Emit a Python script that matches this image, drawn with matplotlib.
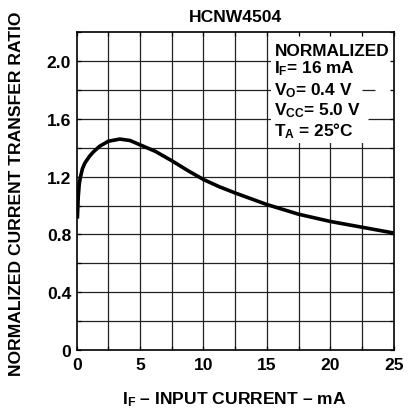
import numpy as np
import matplotlib
matplotlib.use("Agg")
import matplotlib.pyplot as plt
from matplotlib.patches import Rectangle

# values
i_f = [0.05, 0.12, 0.2, 0.3, 0.45, 0.65, 1.0, 1.3, 1.8, 2.5, 3.4, 4.2, 5.0, 6.2, 7.5,
       8.8, 10.0, 11.25, 12.5, 15.0, 17.5, 20.0, 22.5, 25.0]
ctr = [0.91, 1.06, 1.15, 1.20, 1.255, 1.295, 1.34, 1.37, 1.41, 1.445, 1.46, 1.45, 1.42,
       1.375, 1.31, 1.24, 1.18, 1.13, 1.087, 1.007, 0.94, 0.89, 0.85, 0.81]

x_ticks = [0, 5, 10, 15, 20, 25]
y_ticks = [0, 0.4, 0.8, 1.2, 1.6, 2.0]
y_tick_labels = ["0", "0.4", "0.8", "1.2", "1.6", "2.0"]

conditions = [
    "NORMALIZED",
    r"$\mathbf{I_F}$= 16 mA",
    r"$\mathbf{V_O}$= 0.4 V",
    r"$\mathbf{V_{CC}}$= 5.0 V",
    r"$\mathbf{T_A}$ = 25°C",
]

plt.rcParams["font.family"] = ["Liberation Sans", "DejaVu Sans"]
plt.rcParams["font.weight"] = "bold"
plt.rcParams["mathtext.fontset"] = "custom"
plt.rcParams["mathtext.rm"] = "Liberation Sans:weight=bold"
plt.rcParams["mathtext.bf"] = "Liberation Sans:weight=bold"
plt.rcParams["mathtext.it"] = "Liberation Sans:weight=bold"

fs = 12.6

fig = plt.figure(figsize=(4.17, 4.14), dpi=100)
ax = fig.add_axes([0.184, 0.152, 0.760, 0.768])

ax.set_xlim(0, 25)
ax.set_ylim(0, 2.2)

# grid drawn by hand so the legend box can sit on top of it
grid_x = np.arange(2.5, 25, 2.5)
grid_y = np.arange(0.2, 2.2, 0.2)
ax.vlines(grid_x, 0, 2.2, color="#222222", lw=0.9, zorder=1)
ax.hlines(grid_y, 0, 25, color="#222222", lw=0.9, zorder=1)

ax.add_patch(Rectangle((15.35, 1.43), 9.65, 0.77, facecolor="white",
                       edgecolor="none", zorder=2))
ax.hlines([1.8], 22.5, 23.5, color="#222222", lw=0.9, zorder=2.2)
ax.hlines([1.6], 23.0, 25, color="#222222", lw=0.9, zorder=2.2)

ax.plot(i_f, ctr, color="black", lw=2.6, solid_capstyle="butt",
        solid_joinstyle="round", zorder=3)

text_y = [2.04, 1.92, 1.77, 1.633, 1.483]
for s, ty in zip(conditions, text_y):
    ax.text(15.6, ty, s, fontsize=12.4, fontweight="bold", va="baseline",
            ha="left", zorder=4)

ax.set_axisbelow(False)
ax.set_xticks(x_ticks)
ax.set_xticks(np.arange(0, 25.1, 2.5), minor=True)
ax.set_yticks(y_ticks)
ax.set_yticklabels(y_tick_labels)
ax.set_yticks(np.arange(0, 2.21, 0.2), minor=True)
ax.tick_params(which="both", direction="in", top=True, right=True,
               length=3, width=0.9, labelsize=fs)
ax.tick_params(axis="x", pad=5)
ax.tick_params(axis="y", pad=4)
for lab in ax.get_xticklabels() + ax.get_yticklabels():
    lab.set_fontweight("bold")
for sp in ax.spines.values():
    sp.set_linewidth(1.2)

ax.set_title("HCNW4504", fontsize=fs, fontweight="bold", pad=8)
ax.set_xlabel(r"$\mathbf{I_F}$ – INPUT CURRENT – mA", fontsize=fs, fontweight="bold")
ax.set_ylabel("NORMALIZED CURRENT TRANSFER RATIO", fontsize=fs, fontweight="bold")
ax.xaxis.set_label_coords(0.497, -0.122)
ax.yaxis.set_label_coords(-0.166, 0.495)
ax.xaxis.label.set_va("top")

fig.savefig("out.png", dpi=100)
